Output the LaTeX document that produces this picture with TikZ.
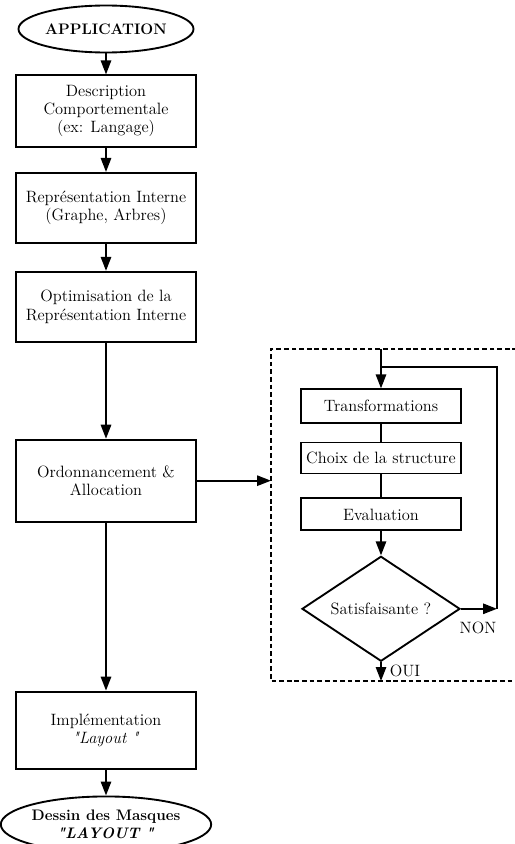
\documentclass[tikz,border=0pt]{standalone}
\usepackage{tikz}
\usetikzlibrary{positioning,shapes.geometric,arrows.meta}

\begin{document}
\begin{tikzpicture}[
  x=0.03cm, y=0.03cm,
  >={Triangle[length=4.2mm,width=3.1mm]},
  every node/.style={font=\fontsize{14}{15.5}\selectfont},
  box/.style={rectangle,draw,line width=1.6pt,align=center,minimum width=5.4cm,minimum height=2.15cm},
  term/.style={ellipse,draw,line width=1.6pt,align=center,inner sep=0pt,font=\fontsize{13}{15.5}\selectfont\bfseries},
  stage/.style={rectangle,draw,line width=1.6pt,minimum width=4.8cm,minimum height=1cm},
  test/.style={diamond,draw,line width=1.6pt,aspect=1.5,inner sep=0pt,minimum width=4.74cm,minimum height=3.15cm},
  frame/.style={line width=1.2pt,dash pattern=on 4pt off 2.5pt},
  link/.style={line width=1.6pt}
]
  \useasboundingbox (0,0) rectangle (515,-844);

  % main synthesis flow
  \node[term,minimum width=5.25cm,minimum height=1.41cm] (app) at (106,-29) {APPLICATION};
  \node[box,below=0.63cm of app] (desc) {Description\\Comportementale\\(ex: Langage)};
  \node[box,below=0.72cm of desc,minimum height=2.1cm] (repr) {Représentation Interne\\(Graphe, Arbres)};
  \node[box,below=0.81cm of repr,minimum height=2.1cm] (optim) {Optimisation de la\\Représentation Interne};
  \node[box,below=2.88cm of optim,minimum height=2.46cm] (ordo) {Ordonnancement \&\\Allocation};
  \node[box,below=5.04cm of ordo,minimum height=2.31cm] (impl) {Implémentation\\\textit{\textquotedbl Layout \textquotedbl}};
  \node[term,below=0.78cm of impl,minimum width=5.4cm,minimum height=1.68cm] (mask) {Dessin des Masques\\\textit{\textquotedbl LAYOUT \textquotedbl}};

  \draw[link,->] (app) -- (desc);
  \draw[link,->] (desc) -- (repr);
  \draw[link,->] (repr) -- (optim);
  \draw[link,->] (optim) -- (ordo);
  \draw[link,->] (ordo) -- (impl);
  \draw[link,->] (impl) -- (mask);

  % detail of the scheduling step
  \coordinate (fnw) at (271,-349);
  \coordinate (fsw) at (271,-681);
  \coordinate (fne) at (540,-349);
  \coordinate (fse) at (540,-681);
  \draw[frame] (fne) -- (fnw) -- (fsw) -- (fse);

  \node[stage] (trans) at (381,-406) {Transformations};
  \node[stage,below=0.54cm of trans,minimum height=0.93cm] (choix) {Choix de la structure};
  \node[stage,below=0.69cm of choix,minimum height=0.96cm] (eval) {Evaluation};
  \node[test,below=0.72cm of eval] (sat) {Satisfaisante ?};

  \coordinate (entry) at (trans.north |- fnw);
  \coordinate (exit) at (sat.south |- fsw);
  \coordinate (loopse) at (497,-605);
  \coordinate (loopne) at (497,-367);
  \coordinate (loopnw) at (trans.north |- loopne);

  \draw[link,->] (ordo.east) -- (ordo.east -| fnw);
  \draw[link,->] (entry) -- (trans);
  \draw[link] (trans) -- (choix);
  \draw[link] (choix) -- (eval);
  \draw[link,->] (eval) -- (sat);
  \draw[link,->] (sat.east) -- (sat.east -| loopse);
  \draw[link] (sat.east -| loopse) -- (loopne) -- (loopnw);
  \draw[link,->] (sat) -- (exit);

  \node (non) at (478,-628) {NON};
  \node (oui) at (405,-671) {OUI};
\end{tikzpicture}
\end{document}
